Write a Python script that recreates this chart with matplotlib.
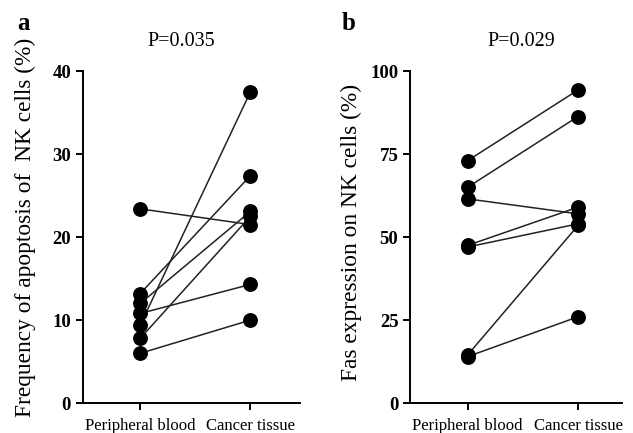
import matplotlib
matplotlib.use("Agg")
import matplotlib.pyplot as plt

plt.rcParams['font.family'] = ['Liberation Serif', 'DejaVu Serif']

categories = ["Peripheral blood", "Cancer tissue"]

# Panel a: apoptosis frequency (%) pairs
apop_pb = [23.4, 13.2, 12.0, 10.8, 9.4, 7.8, 6.0]
apop_ct = [21.5, 27.4, 23.1, 14.3, 37.5, 22.5, 10.0]
apop_ticks = [0, 10, 20, 30, 40]

# Panel b: Fas expression (%) pairs
fas_pb = [73.0, 65.0, 61.5, 47.5, 47.0, 14.5, 14.0]
fas_ct = [94.3, 86.3, 57.0, 59.0, 54.0, 53.5, 26.0]
fas_ticks = [0, 25, 50, 75, 100]

fig = plt.figure(figsize=(6.33, 4.33), dpi=100)
ax1 = fig.add_axes([0.131, 0.069, 0.343, 0.767])
ax2 = fig.add_axes([0.648, 0.069, 0.335, 0.767])

def draw(ax, pb, ct, ticks, ylabel, ptext, xlim, title_x, label_xy):
    for a, b in zip(pb, ct):
        ax.plot([0, 1], [a, b], color='#222222', lw=1.1, zorder=2)
    ax.scatter([0] * len(pb), pb, s=115, color='black', zorder=3, linewidths=0)
    ax.scatter([1] * len(ct), ct, s=115, color='black', zorder=3, linewidths=0)
    ax.set_xlim(*xlim)
    ax.set_ylim(ticks[0], ticks[-1])
    ax.set_yticks(ticks)
    ax.set_yticklabels([str(t) for t in ticks], fontsize=13.5, fontweight='bold')
    ax.set_xticks([0, 1])
    ax.set_xticklabels(categories, fontsize=12)
    ax.spines['top'].set_visible(False)
    ax.spines['right'].set_visible(False)
    for s in ('left', 'bottom'):
        ax.spines[s].set_linewidth(1.4)
    ax.tick_params(axis='both', width=1.4, length=5, direction='out')
    ax.tick_params(axis='x', pad=6)
    ax.set_ylabel(ylabel, fontsize=16.8)
    ax.yaxis.set_label_coords(*label_xy)
    ax.set_title(ptext, fontsize=14.5, x=title_x, pad=18)

draw(ax1, apop_pb, apop_ct, apop_ticks,
     "Frequency of apoptosis of  NK cells (%)", "P=0.035", (-0.52, 1.45), 0.452, (-0.215, 0.53))
draw(ax2, fas_pb, fas_ct, fas_ticks,
     "Fas expression on NK cells (%)", "P=0.029", (-0.52, 1.40), 0.524, (-0.225, 0.513))

fig.text(0.027, 0.945, "a", fontsize=18, fontweight='bold', ha='left', va='center')
fig.text(0.540, 0.945, "b", fontsize=18, fontweight='bold', ha='left', va='center')

fig.savefig("out.png", dpi=100)
